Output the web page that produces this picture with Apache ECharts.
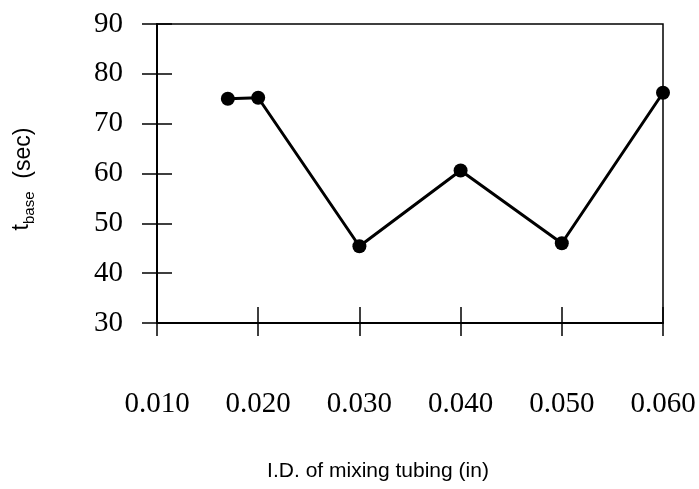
<!DOCTYPE html>
<html>
<head>
<meta charset="utf-8">
<script src="https://cdn.jsdelivr.net/npm/echarts@6/dist/echarts.min.js"></script>
<style>html,body{margin:0;padding:0;background:#fff;}#c{width:699px;height:489px;}</style>
</head>
<body>
<div id="c"></div>
<script>
var xValues = [0.017, 0.020, 0.030, 0.040, 0.050, 0.060];
var yValues = [75.0, 75.2, 45.4, 60.6, 46.0, 76.2];
var xTitle = 'I.D. of mixing tubing (in)';

var chart = echarts.init(document.getElementById('c'));
var pts = xValues.map(function (x, i) { return [x, yValues[i]]; });
var serif = 'Liberation Serif';
var axLine = { show: true, lineStyle: { color: '#000', width: 2 } };
var option = {
  animation: false,
  backgroundColor: '#fff',
  grid: { left: 157, right: 36, top: 24, bottom: 166, show: true, borderColor: '#000', borderWidth: 1.5, backgroundColor: 'transparent' },
  xAxis: [{
    type: 'value', min: 0.010, max: 0.060, interval: 0.010,
    axisLine: axLine,
    axisTick: { show: true, inside: false, length: 13, lineStyle: { color: '#000', width: 1.5 } },
    axisLabel: { margin: 67, fontFamily: serif, fontSize: 29, color: '#000', formatter: function (v) { return v.toFixed(3); } },
    splitLine: { show: false },
    name: xTitle, nameLocation: 'middle', nameGap: 138,
    nameTextStyle: { fontFamily: 'Liberation Sans', fontSize: 21, color: '#000', padding: [0, 64, 0, 0] }
  }, {
    type: 'value', min: 0.010, max: 0.060, interval: 0.010, position: 'bottom',
    axisLine: { show: false },
    axisTick: { show: true, inside: true, length: 16, lineStyle: { color: '#000', width: 1.5 } },
    axisLabel: { show: false }, splitLine: { show: false }
  }],
  yAxis: [{
    type: 'value', min: 30, max: 90, interval: 10, position: 'left',
    axisLine: axLine,
    axisTick: { show: true, inside: false, length: 15, lineStyle: { color: '#000', width: 1.5 } },
    axisLabel: { margin: 34, fontFamily: serif, fontSize: 29, color: '#000' },
    splitLine: { show: false }
  }, {
    type: 'value', min: 30, max: 90, interval: 10, position: 'left',
    axisLine: { show: false },
    axisTick: { show: true, inside: true, length: 15, lineStyle: { color: '#000', width: 1.5 } },
    axisLabel: { show: false }, splitLine: { show: false }
  }],
  graphic: [{
    type: 'text', x: 24, y: 179, rotation: Math.PI / 2, originX: 0, originY: 0,
    style: {
      text: '{t|t}{s|base}{n|  (sec)}',
      align: 'center', verticalAlign: 'middle',
      rich: {
        t: { fontFamily: 'Liberation Sans', fontSize: 23, fill: '#000', verticalAlign: 'top' },
        s: { fontFamily: 'Liberation Sans', fontSize: 15, fill: '#000', padding: [12, 0, 0, 0] },
        n: { fontFamily: 'Liberation Sans', fontSize: 23, fill: '#000' }
      }
    }
  }],
  series: [{
    type: 'line', xAxisIndex: 0, yAxisIndex: 0, data: pts,
    symbol: 'circle', symbolSize: 14,
    lineStyle: { color: '#000', width: 3 },
    itemStyle: { color: '#000' }
  }]
};
chart.setOption(option);
</script>
</body>
</html>
